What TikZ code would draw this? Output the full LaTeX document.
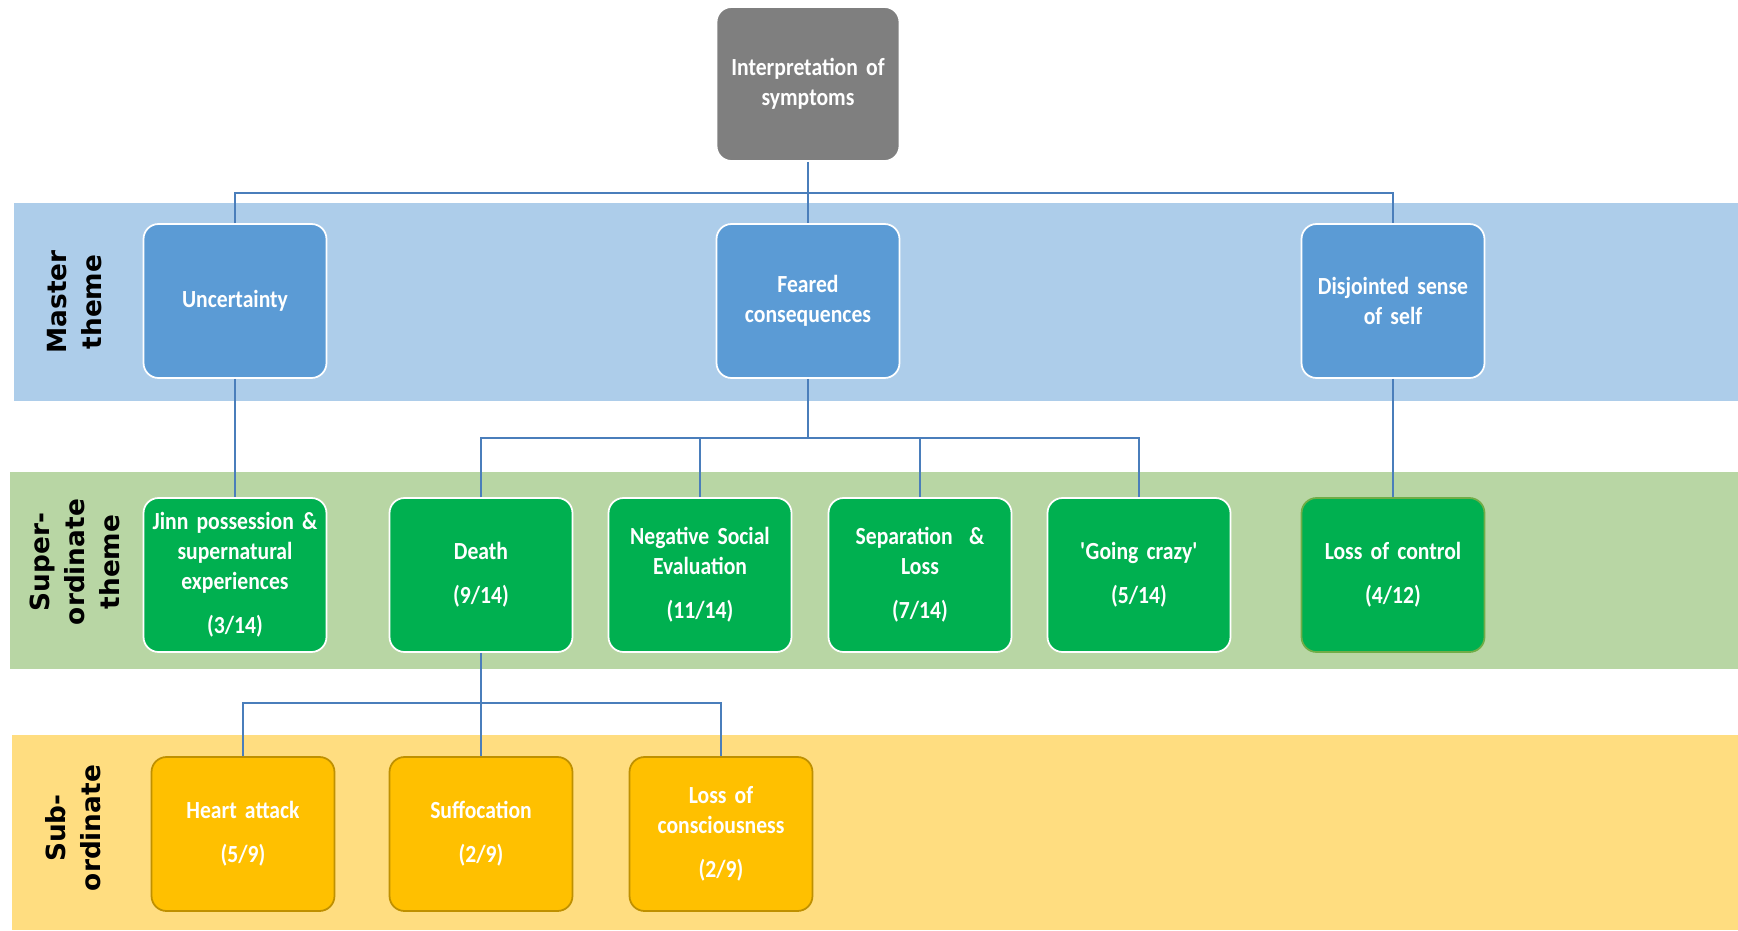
\documentclass[tikz,border=0pt]{standalone}
\usepackage{fontspec}
\newfontfamily\boxfont[FakeStretch=0.88, WordSpace=0.8]{Carlito}
\newfontfamily\bandfont{DejaVu Sans}
\usetikzlibrary{positioning}

\definecolor{topgray}{HTML}{7F7F7F}
\definecolor{masterblue}{HTML}{5B9BD5}
\definecolor{masterband}{HTML}{ADCDEA}
\definecolor{supergreen}{HTML}{00B050}
\definecolor{superband}{HTML}{B8D6A4}
\definecolor{ctrlgreen}{HTML}{70AD47}
\definecolor{subamber}{HTML}{FFC000}
\definecolor{subedge}{HTML}{BF9000}
\definecolor{subband}{HTML}{FFDD80}
\definecolor{linkblue}{HTML}{4A7EBB}

\tikzset{
  theme/.style={rounded corners=0.3cm, draw=white, line width=1pt,
    minimum width=3.66cm, minimum height=3.08cm, text width=3.4cm,
    align=center, text=white,
    font=\boxfont\bfseries\fontsize{14}{17}\selectfont},
  toptheme/.style={theme, fill=topgray},
  master/.style={theme, fill=masterblue},
  super/.style={theme, fill=supergreen},
  sub/.style={theme, fill=subamber, draw=subedge},
  bandlabel/.style={rotate=90, align=center,
    font=\bandfont\bfseries\fontsize{15}{20}\selectfont},
  link/.style={draw=linkblue, line width=1.2pt}
}

\begin{document}
\begin{tikzpicture}[x=0.02cm, y=-0.02cm]
  \useasboundingbox (0,0) rectangle (1738,930);
  % bands
  \fill[masterband] (14,203) rectangle (1738,401);
  \fill[superband] (10,472) rectangle (1738,669);
  \fill[subband] (12,735) rectangle (1738,930);
  \node[bandlabel] (lblmaster) at (75,302) {Master\\theme};
  \node[bandlabel] (lblsuper) at (75,562) {Super-\\ordinate\\theme};
  \node[bandlabel] (lblsub) at (73,828) {Sub-\\ordinate};

  % top and master themes
  \node[toptheme] (interp) at (808,84) {Interpretation of\\symptoms};
  \node[master] (uncert) at (235,301) {Uncertainty};
  \node[master] (feared) at (808,301) {Feared\\consequences};
  \node[master] (disjoint) at (1393,301) {Disjointed sense\\of self};

  % superordinate themes
  \node[super] (jinn) at (235,575) {Jinn possession \&\\supernatural\\experiences\\[8pt](3/14)};
  \node[super] (death) at (481,575) {Death\\[8pt](9/14)};
  \node[super] (negeval) at (700,575) {Negative Social\\Evaluation\\[8pt](11/14)};
  \node[super] (separ) at (920,575) {Separation\ \ \&\\Loss\\[8pt](7/14)};
  \node[super] (crazy) at (1139,575) {\textquotesingle Going crazy\textquotesingle\\[8pt](5/14)};
  \node[super, draw=ctrlgreen] (control) at (1393,575) {Loss of control\\[8pt](4/12)};

  % subordinate themes
  \node[sub] (heart) at (243,834) {Heart attack\\[8pt](5/9)};
  \node[sub] (suffoc) at (481,834) {Suffocation\\[8pt](2/9)};
  \node[sub] (consc) at (721,834) {Loss of\\consciousness\\[8pt](2/9)};

  % connectors
  \coordinate (busA) at (808,193);
  \coordinate (busB) at (808,438);
  \coordinate (busC) at (481,703);
  \draw[link] (interp.south) -- (feared.north);
  \draw[link] (uncert.north) |- (busA) -| (disjoint.north);
  \draw[link] (uncert.south) -- (jinn.north);
  \draw[link] (disjoint.south) -- (control.north);
  \draw[link] (feared.south) -- (busB);
  \draw[link] (death.north) |- (busB) -| (crazy.north);
  \draw[link] (negeval.north) |- (busB);
  \draw[link] (separ.north) |- (busB);
  \draw[link] (death.south) -- (suffoc.north);
  \draw[link] (heart.north) |- (busC) -| (consc.north);
\end{tikzpicture}
\end{document}
